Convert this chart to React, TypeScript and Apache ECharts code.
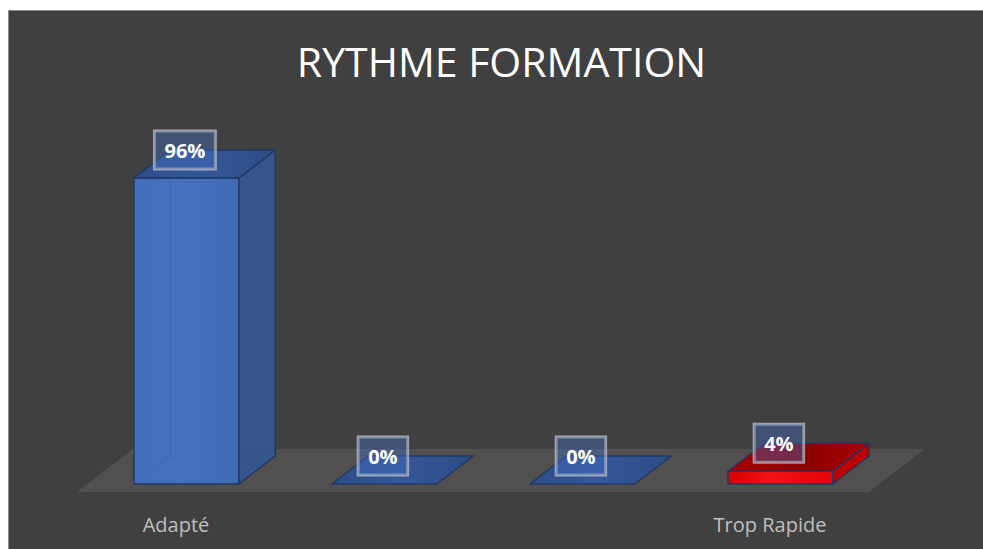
import React, { useEffect, useRef } from 'react';
import * as echarts from 'echarts';

// ---- data ----
const categories: string[] = ['Adapté', 'Lent', 'Rapide', 'Trop Rapide'];
const values: number[] = [0.96, 0, 0, 0.04];
const titleText = 'RYTHME FORMATION';

// ---- styles (kept apart from data) ----
const barThemeByIndex: string[] = ['blue', 'blue', 'blue', 'red'];
const THEMES: Record<string, any> = {
  blue: {
    front: { type: 'linear', x: 0, y: 0, x2: 1, y2: 0, colorStops: [
      { offset: 0, color: '#426DB9' }, { offset: 0.45, color: '#4571BF' }, { offset: 1, color: '#406AB5' }] },
    side: '#35558C',
    top: { type: 'linear', x: 0, y: 0, x2: 1, y2: 0, colorStops: [
      { offset: 0, color: '#2E4E88' }, { offset: 0.5, color: '#34569A' }, { offset: 1, color: '#2D4C85' }] },
    hidden: 'rgba(31,56,100,0.14)',
  },
  red: {
    front: { type: 'linear', x: 0, y: 0, x2: 1, y2: 0, colorStops: [
      { offset: 0, color: '#DA0000' }, { offset: 0.4, color: '#F21212' }, { offset: 1, color: '#E20404' }] },
    side: '#BA0000',
    top: { type: 'linear', x: 0, y: 0, x2: 1, y2: 0, colorStops: [
      { offset: 0, color: '#A80000' }, { offset: 0.55, color: '#8A0000' }, { offset: 1, color: '#AA0202' }] },
    hidden: 'rgba(60,0,0,0.12)',
  },
};
const EDGE = '#1F3864';
const K = 1.3; // oblique depth slope (px x per px y)
const BAR_FRONT_D = 8;
const BAR_DEPTH = 28;
const FLOOR_DEPTH = 43;
const BAR_FRACTION = 0.53;

export default function App() {
  const ref = useRef<HTMLDivElement>(null);
  useEffect(() => {
    if (!ref.current) return;
    const chart = echarts.init(ref.current, undefined, { renderer: 'svg' });

    const floorRender = (params: any, api: any) => {
      const b0 = api.coord([0, 0]);
      const bN = api.coord([categories.length - 1, 0]);
      const band = api.size([1, 0])[0];
      const l = b0[0] - band / 2;
      const r = bN[0] + band / 2;
      const y = b0[1];
      return {
        type: 'polygon',
        shape: { points: [[l, y], [r, y], [r + FLOOR_DEPTH * K, y - FLOOR_DEPTH], [l + FLOOR_DEPTH * K, y - FLOOR_DEPTH]] },
        style: { fill: '#524F4F' },
        silent: true,
      };
    };

    const barRender = (params: any, api: any) => {
      const i = api.value(0);
      const v = api.value(1);
      const th = THEMES[barThemeByIndex[params.dataIndex]];
      const base = api.coord([i, 0]);
      const top = api.coord([i, v]);
      const band = api.size([1, 0])[0];
      const cx = base[0] + BAR_FRONT_D * K;
      const yb = base[1] - BAR_FRONT_D;
      const yt = top[1] - BAR_FRONT_D;
      const w = band * BAR_FRACTION;
      const x0 = cx - w / 2;
      const x1 = cx + w / 2;
      const dx = BAR_DEPTH * K;
      const dy = BAR_DEPTH;
      const edgeStyle = { stroke: EDGE, lineWidth: 1.5, lineJoin: 'round' };
      const children: any[] = [];
      const h = yb - yt;
      if (h > 0.5) {
        children.push({ type: 'rect', shape: { x: x0, y: yt, width: w, height: h }, style: { fill: th.front, ...edgeStyle } });
        children.push({ type: 'polygon', shape: { points: [[x1, yb], [x1, yt], [x1 + dx, yt - dy], [x1 + dx, yb - dy]] }, style: { fill: th.side, ...edgeStyle } });
        // faint hidden edges seen through the slightly translucent bar
        children.push({ type: 'polyline', shape: { points: [[x0, yb], [x0 + dx, yb - dy], [x1 + dx, yb - dy]] }, style: { stroke: th.hidden, lineWidth: 1, fill: null } });
        children.push({ type: 'line', shape: { x1: x0 + dx, y1: yb - dy, x2: x0 + dx, y2: yt - dy }, style: { stroke: th.hidden, lineWidth: 1 } });
      }
      children.push({ type: 'polygon', shape: { points: [[x0, yt], [x1, yt], [x1 + dx, yt - dy], [x0 + dx, yt - dy]] }, style: { fill: th.top, ...edgeStyle } });
      children.push({
        type: 'text',
        x: cx - 1.5,
        y: yt - dy,
        z2: 10,
        style: {
          text: Math.round(v * 100) + '%',
          fill: '#FFFFFF',
          fontSize: 20,
          fontWeight: 'bold',
          fontFamily: 'Open Sans',
          lineHeight: 20,
          align: 'center',
          verticalAlign: 'middle',
          backgroundColor: 'rgba(68,114,196,0.38)',
          borderColor: 'rgba(195,195,195,0.75)',
          borderWidth: 1.5,
          padding: [9, 10, 9, 10],
        },
      });
      return { type: 'group', children };
    };

    chart.setOption({
      animation: false,
      backgroundColor: '#404040',
      title: {
        text: titleText,
        left: 487.5,
        top: 24,
        textAlign: 'center',
        textStyle: { color: '#FFFFFF', fontSize: 41, fontWeight: 'normal', fontFamily: 'Open Sans' },
      },
      grid: { left: 68, right: 114, top: 162.25, bottom: 57 },
      xAxis: {
        type: 'category',
        data: categories,
        axisLine: { show: false },
        axisTick: { show: false },
        splitLine: { show: false },
        axisLabel: { interval: 2, margin: 22, color: '#BFBFBF', fontSize: 20, fontFamily: 'Open Sans' },
      },
      yAxis: { type: 'value', min: 0, max: 1, show: false, splitLine: { show: false } },
      series: [
        { type: 'custom', name: 'floor', renderItem: floorRender, data: [[0, 0]], encode: { x: 0, y: 1 }, silent: true },
        { type: 'custom', name: 'rythme', renderItem: barRender, data: values.map((v, i) => [i, v]), encode: { x: 0, y: 1 } },
      ],
    });
    return () => chart.dispose();
  }, []);

  return (
    <div style={{ position: 'fixed', left: 8, top: 10, width: 975, height: 539, boxSizing: 'border-box', borderLeft: '1px solid #8A8A8A', borderTop: '1px solid #8A8A8A', background: '#404040' }}>
      <div ref={ref} style={{ width: 974, height: 538 }} />
    </div>
  );
}
